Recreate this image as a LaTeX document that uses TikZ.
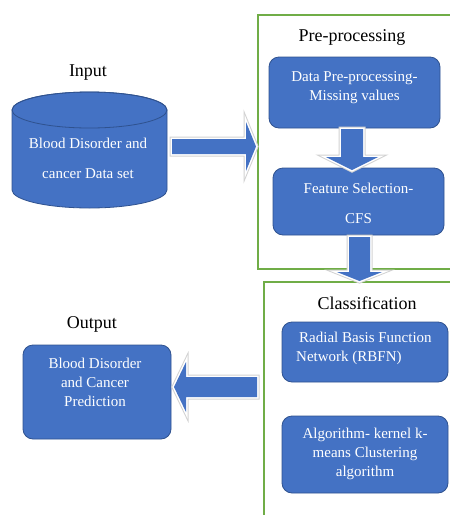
\documentclass[tikz,border=0pt]{standalone}
\usepackage{fontspec}
\setmainfont{Liberation Serif}
\definecolor{boxblue}{HTML}{4472C4}
\definecolor{boxedge}{HTML}{2F528F}
\definecolor{framegreen}{HTML}{70AD47}
\tikzset{
  title/.style={font=\fontsize{18}{22}\selectfont, text=black, inner sep=0pt},
  btext/.style={font=\fontsize{15}{19}\selectfont, text=white, inner sep=0pt, align=center},
  wtext/.style={font=\fontsize{15}{30}\selectfont, text=white, inner sep=0pt, align=center},
  bluebox/.style={fill=boxblue, draw=boxedge, line width=0.8pt, rounded corners=10pt},
  frame/.style={draw=framegreen, line width=1.1pt},
  arrowout/.style={draw=gray!35, line width=5pt, line join=miter},
  arrowin/.style={draw=white, line width=3pt, line join=miter},
  arrowfill/.style={fill=boxblue},
}
\begin{document}
\begin{tikzpicture}[x=1pt,y=-1pt]
\useasboundingbox (0,0) rectangle (450,515);
% frames
\draw[frame] (451,15) -- (258,15) -- (258,269) -- (451,269);
\draw[frame] (451,282) -- (264,282) -- (264,516);
% titles
\node[title] (tin) at (88,73) {Input};
\node[title] (tpre) at (352,37) {Pre-processing};
\node[title] (tcls) at (367,303) {Classification};
\node[title] (tout) at (92,324) {Output};
% cylinder
\path[fill=boxblue, draw=boxedge, line width=0.8pt]
  (12,110) -- (12,190) arc[start angle=180, end angle=0, x radius=77.5, y radius=18]
  -- (167,110) arc[start angle=0, end angle=-180, x radius=77.5, y radius=18] -- cycle;
\draw[boxedge, line width=0.8pt] (89.5,110) ellipse [x radius=77.5, y radius=18];
\node[wtext] (db) at (88,158) {Blood Disorder and\\cancer Data set};
% boxes
\node[bluebox, minimum width=171pt, minimum height=71pt] (pre) at (354.5,92.5) {};
\node[btext] (pretxt) at (354.5,87.5) {Data Pre-processing-\\Missing values};
\node[bluebox, minimum width=171pt, minimum height=67pt] (fs) at (358.5,201.5) {};
\node[wtext] (fstxt) at (358.5,203) {Feature Selection-\\CFS};
\node[bluebox, minimum width=166pt, minimum height=60pt] (rbfn) at (365,352) {};
\node[btext, align=left, anchor=west] (rbfntxt) at (296,348.5) {\hspace*{3pt}Radial Basis Function\\Network (RBFN)};
\node[bluebox, minimum width=166pt, minimum height=77pt] (alg) at (365,454.5) {};
\node[btext] (algtxt) at (365,453.5) {Algorithm- kernel k-\\means Clustering\\algorithm};
\node[bluebox, minimum width=148pt, minimum height=94pt] (out) at (97,392) {};
\node[btext] (outtxt) at (95,382) {Blood Disorder\\and Cancer\\Prediction};
% block arrows
\def\arrA{(172,139) -- (246,139) -- (246,122) -- (256,146.5) -- (246,171) -- (246,154) -- (172,154) -- cycle}
\def\arrB{(341,129) -- (363,129) -- (363,157) -- (378,157) -- (352,170) -- (326,157) -- (341,157) -- cycle}
\def\arrC{(349,237) -- (370,237) -- (370,272) -- (382,272) -- (359.5,281) -- (337,272) -- (349,272) -- cycle}
\def\arrD{(257,377) -- (186,377) -- (186,362) -- (174,387) -- (186,412) -- (186,397) -- (257,397) -- cycle}
\foreach \p in {\arrA,\arrB,\arrC,\arrD}{
  \draw[arrowout] \p;
  \draw[arrowin] \p;
  \fill[arrowfill] \p;
}
\end{tikzpicture}
\end{document}
